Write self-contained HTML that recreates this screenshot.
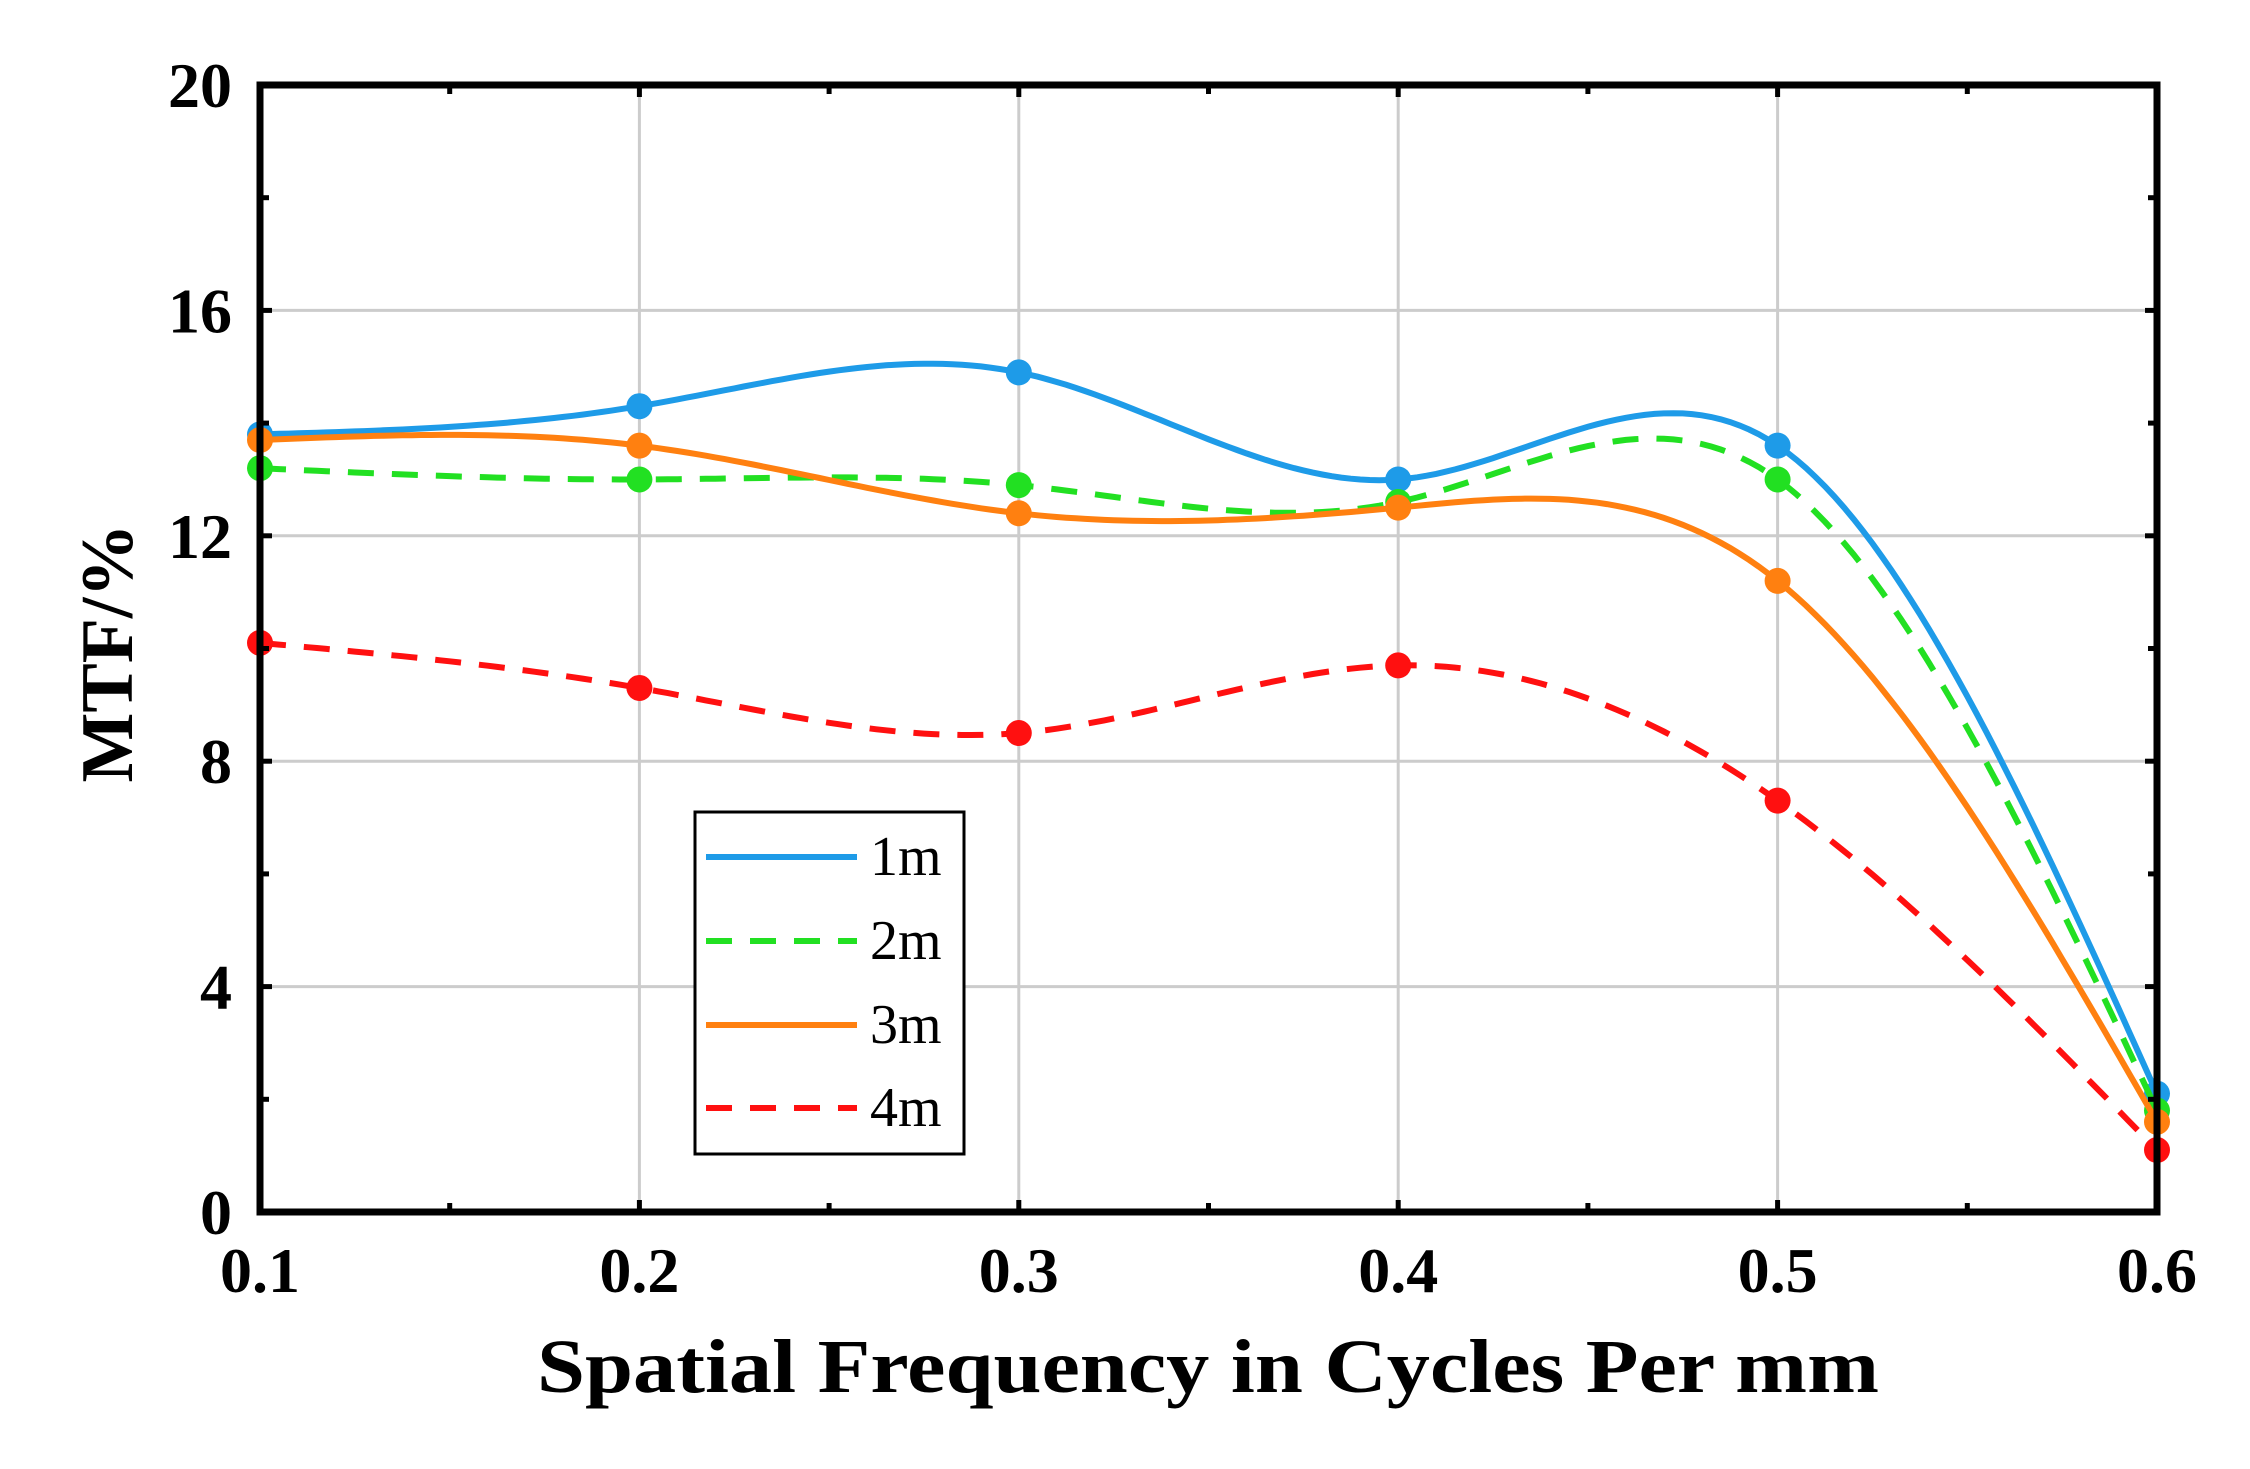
<!DOCTYPE html>
<html><head><meta charset="utf-8"><style>
html,body{margin:0;padding:0;background:#fff;}
svg{display:block;font-family:"Liberation Serif",serif;font-weight:bold;}
</style></head><body>
<svg id="chart" width="2250" height="1469" viewBox="0 0 2250 1469">
<g id="grid"></g>
<g id="series"></g>
<g id="axes"></g>
<text x="108" y="653" font-size="74" text-anchor="middle" dominant-baseline="central" transform="rotate(-90 108 653)">MTF/%</text>
<text x="1208" y="1392" font-size="76" text-anchor="middle" textLength="1342" lengthAdjust="spacingAndGlyphs">Spatial Frequency in Cycles Per mm</text>
<g id="legend"></g>
</svg>
<script>
const xs = [0.1, 0.2, 0.3, 0.4, 0.5, 0.6];
const s1m = [13.8, 14.3, 14.9, 13.0, 13.6, 2.1];
const s2m = [13.2, 13.0, 12.9, 12.6, 13.0, 1.8];
const s3m = [13.7, 13.6, 12.4, 12.5, 11.2, 1.6];
const s4m = [10.1, 9.3, 8.5, 9.7, 7.3, 1.1];
const seriesNames = ["1m", "2m", "3m", "4m"];
const xTicks = [0.1, 0.2, 0.3, 0.4, 0.5, 0.6];
const xTickLabels = ["0.1", "0.2", "0.3", "0.4", "0.5", "0.6"];
const yTicks = [0, 4, 8, 12, 16, 20];
const yTickLabels = ["0", "4", "8", "12", "16", "20"];

const L=260,R=2157,T=85,B=1212;
const X=v=>L+(v-0.1)/(0.5)*(R-L);
const Y=v=>B-v/20*(B-T);
const NS="http://www.w3.org/2000/svg";
function mk(tag,attrs,parent){const e=document.createElementNS(NS,tag);for(const k in attrs)e.setAttribute(k,attrs[k]);parent.appendChild(e);return e;}
const grid=document.getElementById('grid'),axes=document.getElementById('axes'),ser=document.getElementById('series'),leg=document.getElementById('legend');

xTicks.forEach((t,i)=>{
  const g=mk('line',{x1:X(t),x2:X(t),y1:T,y2:B,stroke:'#cccccc','stroke-width':3},grid);
  
  
  const tx=mk('text',{x:X(t),y:1292,'font-size':64,'text-anchor':'middle'},axes);
  tx.textContent=xTickLabels[i];
  
  
});
yTicks.forEach((t,i)=>{
  const g=mk('line',{x1:L,x2:R,y1:Y(t),y2:Y(t),stroke:'#cccccc','stroke-width':3},grid);
  
  
  const tx=mk('text',{x:232,y:Y(t)+22,'font-size':64,'text-anchor':'end'},axes);
  tx.textContent=yTickLabels[i];
  
  
});
for(let k=0;k<=10;k++){const v=0.1+k*0.05,len=k%2?9:12;
  mk('line',{x1:X(v),x2:X(v),y1:B,y2:B-len,stroke:'#000','stroke-width':5},axes);
  mk('line',{x1:X(v),x2:X(v),y1:T,y2:T+len,stroke:'#000','stroke-width':5},axes);}
for(let k=0;k<=10;k++){const v=k*2,len=k%2?9:12;
  mk('line',{x1:L,x2:L+len,y1:Y(v),y2:Y(v),stroke:'#000','stroke-width':5},axes);
  mk('line',{x1:R,x2:R-len,y1:Y(v),y2:Y(v),stroke:'#000','stroke-width':5},axes);}
const fr=mk('rect',{x:L,y:T,width:R-L,height:B-T,fill:'none',stroke:'#000','stroke-width':7},axes);



function spline(x,y){const n=x.length,h=[],a=[],l=[1],mu=[0],z=[0],c=new Array(n).fill(0),b=[],d=[];
  for(let i=0;i<n-1;i++)h[i]=x[i+1]-x[i];
  for(let i=1;i<n-1;i++)a[i]=3/h[i]*(y[i+1]-y[i])-3/h[i-1]*(y[i]-y[i-1]);
  for(let i=1;i<n-1;i++){l[i]=2*(x[i+1]-x[i-1])-h[i-1]*mu[i-1];mu[i]=h[i]/l[i];z[i]=(a[i]-h[i-1]*z[i-1])/l[i];}
  for(let j=n-2;j>=0;j--){c[j]=(j>0?z[j]:0)-mu[j]*c[j+1];b[j]=(y[j+1]-y[j])/h[j]-h[j]*(c[j+1]+2*c[j])/3;d[j]=(c[j+1]-c[j])/(3*h[j]);}
  const pts=[];
  for(let i=0;i<n-1;i++)for(let s=0;s<40;s++){const t=s/40*h[i];pts.push([x[i]+t,y[i]+b[i]*t+c[i]*t*t+d[i]*t*t*t]);}
  pts.push([x[n-1],y[n-1]]);return pts;}

const defs=[[s1m,'#1e9be8',null],[s2m,'#22e022','26 18'],[s3m,'#ff8010',null],[s4m,'#ff1010','26 18']];
const names=['series-1m','series-2m','series-3m','series-4m'];
defs.forEach((d,si)=>{
  const g=mk('g',{},ser);
  
  
  const pts=spline(xs,d[0]);
  const p=mk('path',{d:'M'+pts.map(q=>X(q[0]).toFixed(1)+','+Y(q[1]).toFixed(1)).join('L'),fill:'none',stroke:d[1],'stroke-width':6},g);
  if(d[2])p.setAttribute('stroke-dasharray',d[2]);
  
  
  xs.forEach((xv,i)=>{const c=mk('circle',{cx:X(xv),cy:Y(d[0][i]),r:13,fill:d[1]},g);
    
    });
});

const lb=mk('rect',{x:695,y:812,width:269,height:342,fill:'#fff',stroke:'#000','stroke-width':3},leg);


const ly=[857,941,1025,1108];
defs.forEach((d,i)=>{
  const ln=mk('line',{x1:706,x2:857,y1:ly[i],y2:ly[i],stroke:d[1],'stroke-width':6},leg);
  if(d[2])ln.setAttribute('stroke-dasharray',d[2]);
  
  
  const t=mk('text',{x:870,y:ly[i]+18,'font-size':56,'font-weight':'normal'},leg);
  t.textContent=seriesNames[i];
  
  
});
</script>
</body></html>
